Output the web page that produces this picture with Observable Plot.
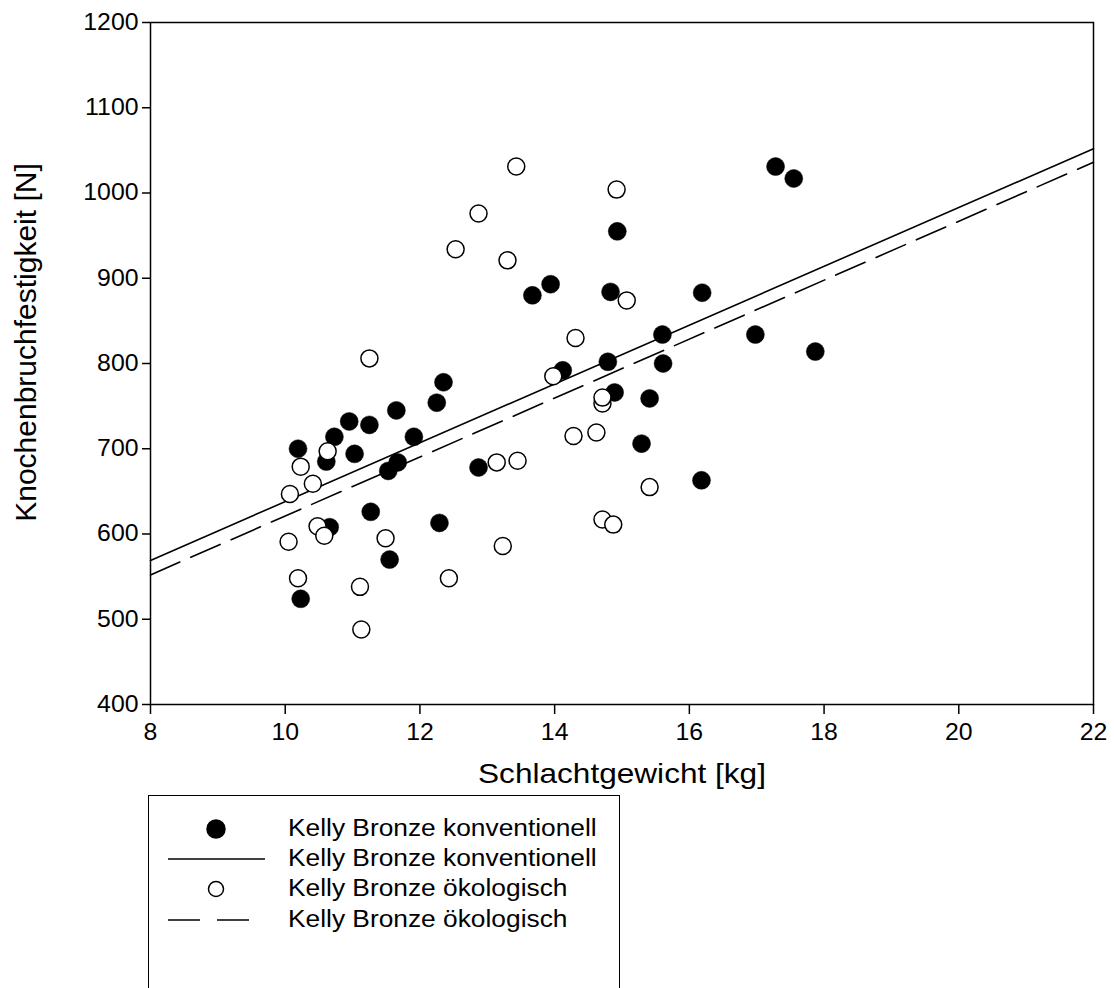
<!DOCTYPE html>
<html>
<head>
<meta charset="utf-8">
<script src="https://cdn.jsdelivr.net/npm/d3@7"></script>
<script src="https://cdn.jsdelivr.net/npm/@observablehq/plot@0.6"></script>
<style>
  body { margin: 0; background: #fff; font-family: "Liberation Sans", Arial, Helvetica, sans-serif; }
  #wrap { position: relative; width: 1114px; height: 988px; overflow: hidden; background: #fff; }
  #legend { position: absolute; left: 148px; top: 795px; width: 472px; height: 230px; border: 1.5px solid #000; box-sizing: border-box; }
  .row { position: absolute; left: 0; width: 100%; height: 30px; }
  .row svg { position: absolute; left: 0; top: 0; }
  .row span { position: absolute; left: 139px; top: 50%; transform-origin: 0 50%; white-space: nowrap; font-size: 23.5px; line-height: 1; color: #000; }
</style>
</head>
<body>
<div id="wrap">
  <div id="chart"></div>
  <div id="legend"></div>
</div>
<script>
// Kelly Bronze konventionell (filled points)
const konvX = [10.19, 10.23, 10.61, 10.66, 10.73, 10.95, 11.03, 11.25, 11.27, 11.53, 11.55, 11.65, 11.67, 11.91, 12.25, 12.29, 12.35, 12.87, 13.67, 13.94, 14.12, 14.79, 14.83, 14.89, 14.93, 15.29, 15.41, 15.60, 15.61, 16.18, 16.19, 16.98, 17.28, 17.55, 17.87];
const konvY = [700, 524, 685, 608, 714, 732, 694, 728, 626, 674, 570, 745, 684, 714, 754, 613, 778, 678, 880, 893, 792, 802, 884, 766, 955, 706, 759, 834, 800, 663, 883, 834, 1031, 1017, 814];

// Kelly Bronze ökologisch (open points)
const oekoX = [10.05, 10.07, 10.19, 10.23, 10.41, 10.48, 10.58, 10.63, 11.11, 11.13, 11.25, 11.49, 12.43, 12.53, 12.87, 13.14, 13.23, 13.30, 13.43, 13.45, 13.98, 14.28, 14.31, 14.62, 14.71, 14.71, 14.71, 14.87, 14.92, 15.07, 15.41];
const oekoY = [591, 647, 548, 679, 659, 609, 598, 697, 538, 488, 806, 595, 548, 934, 976, 684, 586, 921, 1031, 686, 785, 715, 830, 719, 753, 760, 617, 611, 1004, 874, 655];

// Regression lines (end points)
const fitX = [8, 22];
const konvFitY = [569, 1052];
const oekoFitY = [552, 1036];

const xTicks = [8, 10, 12, 14, 16, 18, 20, 22];
const yTicks = [400, 500, 600, 700, 800, 900, 1000, 1100, 1200];

const seriesNames = ["Kelly Bronze konventionell", "Kelly Bronze ökologisch"];
const xLabel = "Schlachtgewicht [kg]";
const yLabel = "Knochenbruchfestigkeit [N]";

const konv = konvX.map((x, i) => ({x, y: konvY[i]}));
const oeko = oekoX.map((x, i) => ({x, y: oekoY[i]}));
const konvFit = fitX.map((x, i) => ({x, y: konvFitY[i]}));
const oekoFit = fitX.map((x, i) => ({x, y: oekoFitY[i]}));

const font = '"Liberation Sans", Arial, Helvetica, sans-serif';

const chart = Plot.plot({
  width: 1114,
  height: 790,
  marginLeft: 150,
  marginRight: 21,
  marginTop: 22,
  marginBottom: 86,
  style: { fontFamily: font, fontSize: "23px", color: "#000", background: "#fff", overflow: "visible" },
  x: { domain: [8, 22] },
  y: { domain: [400, 1200] },
  marks: [
    Plot.line(konvFit, { x: "x", y: "y", stroke: "#000", strokeWidth: 1.6 }),
    Plot.line(oekoFit, { x: "x", y: "y", stroke: "#000", strokeWidth: 1.6, strokeDasharray: "32,12" }),
    Plot.dot(konv, { x: "x", y: "y", r: 9, fill: "#000", stroke: "#000", strokeWidth: 0.5 }),
    Plot.dot(oeko, { x: "x", y: "y", r: 8.5, fill: "#fff", stroke: "#000", strokeWidth: 1.5 }),
    Plot.frame({ stroke: "#000", strokeWidth: 1.5 }),
    Plot.axisX({ ticks: xTicks, tickSize: 10, tickPadding: 9, tickFormat: d3.format("d"), label: xLabel, labelAnchor: "center", labelOffset: 78, labelArrow: false, strokeWidth: 1.5 }),
    Plot.axisY({ ticks: yTicks, tickSize: 8, tickPadding: 4, tickFormat: d3.format("d"), label: yLabel, labelAnchor: "center", labelOffset: 136, labelArrow: false, strokeWidth: 1.5 })
  ]
});
document.getElementById("chart").appendChild(chart);

function stretch(t, s) {
  const tr = t.getAttribute("transform");
  if (tr) t.setAttribute("transform", tr + ` scale(${s},1)`);
  else {
    const x = +t.getAttribute("x") || 0, y = +t.getAttribute("y") || 0;
    t.setAttribute("transform", `translate(${x},${y}) scale(${s},1) translate(${-x},${-y})`);
  }
}
chart.querySelectorAll('g[aria-label="x-axis tick label"] text, g[aria-label="y-axis tick label"] text').forEach(t => stretch(t, 1.08));
chart.querySelectorAll('g[aria-label="x-axis label"] text').forEach(t => { t.style.fontSize = "27px"; stretch(t, 1.17); });
chart.querySelectorAll('g[aria-label="y-axis label"] text').forEach(t => {
  t.style.fontSize = "30px";
  const tr = t.getAttribute("transform") || "";
  t.setAttribute("transform", tr + " translate(21,0)");
});

// Legend
const legend = document.getElementById("legend");
const rows = [
  { label: seriesNames[0], kind: "filled" },
  { label: seriesNames[0], kind: "solid" },
  { label: seriesNames[1], kind: "open" },
  { label: seriesNames[1], kind: "dashed" }
];
const rowCenters = [33, 63, 93, 124];
const ns = "http://www.w3.org/2000/svg";
rows.forEach((r, i) => {
  const div = document.createElement("div");
  div.className = "row";
  div.style.top = (rowCenters[i] - 15) + "px";
  const svg = document.createElementNS(ns, "svg");
  svg.setAttribute("width", 130); svg.setAttribute("height", 30);
  let el;
  if (r.kind === "filled" || r.kind === "open") {
    el = document.createElementNS(ns, "circle");
    el.setAttribute("cx", 67); el.setAttribute("cy", 15);
    el.setAttribute("r", r.kind === "filled" ? 9 : 7.5);
    el.setAttribute("fill", r.kind === "filled" ? "#000" : "#fff");
    el.setAttribute("stroke", "#000"); el.setAttribute("stroke-width", 1.5);
  } else {
    el = document.createElementNS(ns, "line");
    el.setAttribute("x1", 19); el.setAttribute("x2", r.kind === "solid" ? 116 : 103);
    el.setAttribute("y1", 15); el.setAttribute("y2", 15);
    el.setAttribute("stroke", "#000"); el.setAttribute("stroke-width", 1.6);
    if (r.kind === "dashed") el.setAttribute("stroke-dasharray", "32,17");
  }
  svg.appendChild(el);
  div.appendChild(svg);
  const span = document.createElement("span");
  span.textContent = r.label;
  span.style.transform = "translateY(-50%) scaleX(1.12)";
  div.appendChild(span);
  legend.appendChild(div);
});
</script>
</body>
</html>
